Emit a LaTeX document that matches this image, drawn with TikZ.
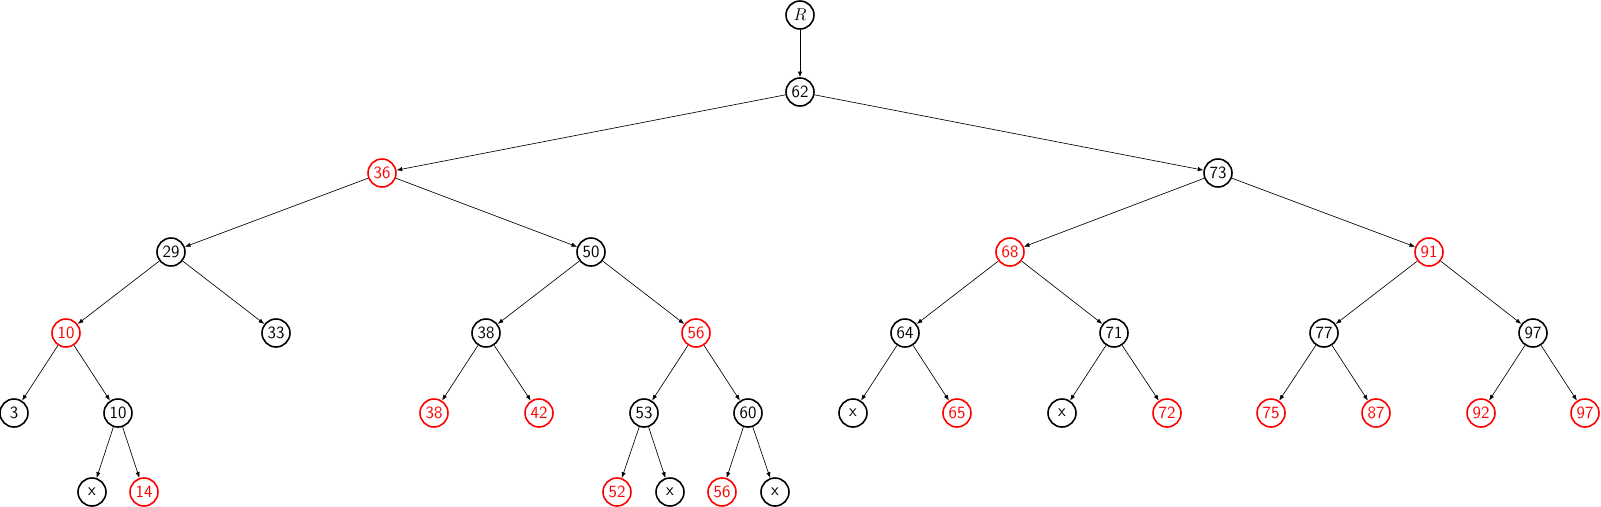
\documentclass[tikz,border=0pt]{standalone}
\usetikzlibrary{arrows.meta}
\renewcommand{\familydefault}{\sfdefault}
\begin{document}
\begin{tikzpicture}[x=0.7pt,y=-0.7pt,
  bn/.style={circle,draw=black,line width=1.1pt,minimum size=19.6pt,inner sep=0pt,font=\sffamily\large},
  rn/.style={bn,draw=red,text=red},
  edge/.style={-{Latex[length=4pt,width=3pt]},line width=0.45pt}]
\useasboundingbox (0,0) rectangle (1601,506);
\node[bn] (R) at (800,15) {$R$};
\node[bn] (n62) at (800,92) {62};
\node[rn] (n36) at (382,173) {36};
\node[bn] (n73) at (1218,173) {73};
\node[bn] (n29) at (171,252) {29};
\node[bn] (n50) at (591,252) {50};
\node[rn] (n68) at (1010,252) {68};
\node[rn] (n91) at (1429,252) {91};
\node[rn] (n10) at (66,333) {10};
\node[bn] (n33) at (276,333) {33};
\node[bn] (n38) at (486,333) {38};
\node[rn] (n56) at (696,333) {56};
\node[bn] (n64) at (905,333) {64};
\node[bn] (n71) at (1114,333) {71};
\node[bn] (n77) at (1324,333) {77};
\node[bn] (n97) at (1533,333) {97};
\node[bn] (n3) at (14,413) {3};
\node[bn] (n10b) at (118,413) {10};
\node[rn] (n38b) at (434,413) {38};
\node[rn] (n42) at (539,413) {42};
\node[bn] (n53) at (644,413) {53};
\node[bn] (n60) at (748,413) {60};
\node[bn] (x1) at (853,413) {x};
\node[rn] (n65) at (957,413) {65};
\node[bn] (x2) at (1062,413) {x};
\node[rn] (n72) at (1167,413) {72};
\node[rn] (n75) at (1271,413) {75};
\node[rn] (n87) at (1376,413) {87};
\node[rn] (n92) at (1481,413) {92};
\node[rn] (n97b) at (1585,413) {97};
\node[bn] (x3) at (92,492) {x};
\node[rn] (n14) at (144,492) {14};
\node[rn] (n52) at (617,492) {52};
\node[bn] (x4) at (670,492) {x};
\node[rn] (n56b) at (722,492) {56};
\node[bn] (x5) at (775,492) {x};
\foreach \a/\b in {R/n62,n62/n36,n62/n73,n36/n29,n36/n50,n73/n68,n73/n91,
  n29/n10,n29/n33,n50/n38,n50/n56,n68/n64,n68/n71,n91/n77,n91/n97,
  n10/n3,n10/n10b,n38/n38b,n38/n42,n56/n53,n56/n60,n64/x1,n64/n65,n71/x2,n71/n72,
  n77/n75,n77/n87,n97/n92,n97/n97b,n10b/x3,n10b/n14,n53/n52,n53/x4,n60/n56b,n60/x5}
  \draw[edge] (\a) -- (\b);
\end{tikzpicture}
\end{document}
